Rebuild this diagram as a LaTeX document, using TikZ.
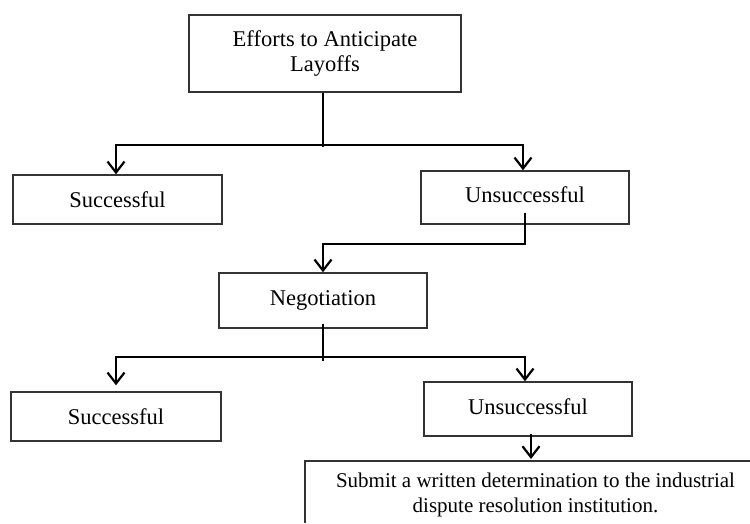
\documentclass[tikz,border=0pt]{standalone}
\usepackage{fontspec}
\setmainfont{Liberation Serif}
\usetikzlibrary{arrows.meta,calc}
\newcommand{\liftup}[2]{\raisebox{#1}{\begin{tabular}{@{}c@{}}#2\end{tabular}}}
\begin{document}
\begin{tikzpicture}[x=1pt,y=-1pt,
  box/.style={draw=black!80,line width=1.4pt,rectangle,inner sep=0pt,align=center,
    font=\fontsize{22.5}{25}\selectfont},
  conn/.style={line width=2.2pt,black},
  arr/.style={conn,-{Straight Barb[length=11pt,width=17pt]}}]
\useasboundingbox (0,0) rectangle (750,523);
% boxes
\node[box,minimum width=272pt,minimum height=77pt] (top) at (325,53.5) {\liftup{4pt}{Efforts to Anticipate\\Layoffs}};
\node[box,minimum width=209pt,minimum height=49pt] (s1) at (117.5,199.5) {Successful};
\node[box,minimum width=208pt,minimum height=53pt] (u1) at (525,197.5) {\liftup{4pt}{Unsuccessful}};
\node[box,minimum width=208pt,minimum height=55pt] (neg) at (323,300.5) {\liftup{4pt}{Negotiation}};
\node[box,minimum width=210pt,minimum height=49pt] (s2) at (116,416.5) {Successful};
\node[box,minimum width=208pt,minimum height=54pt] (u2) at (528,409) {\liftup{4pt}{Unsuccessful}};
\node[align=center,inner sep=0pt,font=\fontsize{21}{25}\selectfont] (final) at (535.5,494.5)
  {Submit a written determination to the industrial\\dispute resolution institution.};
\draw[draw=black!80,line width=1.4pt] (305,523) |- (750,461);
% junction coordinates
\coordinate (j1) at (323,145);
\coordinate (j2) at (323,244);
\coordinate (j3) at (323,357);
\coordinate (finaltop) at (531,461);
% connectors
\draw[conn] (top.south -| j1) -- ($(j1)+(0,2)$);
\draw[arr] (j1) -| (s1.north -| 116,0);
\draw[arr] (j1) -| (u1.north -| 523,0);
\draw[arr] ($(u1.south)+(0,-12)$) |- (j2) -- (neg.north -| j2);
\draw[conn] ($(neg.south -| j3)+(0,-5)$) -- ($(j3)+(0,4)$);
\draw[arr,shorten >=6pt] (j3) -| (s2.north -| 116,0);
\draw[arr] (j3) -| (u2.north -| 525,0);
\draw[arr,shorten >=2pt] ($(u2.south)+(3,-3)$) -- (finaltop);
\end{tikzpicture}
\end{document}
